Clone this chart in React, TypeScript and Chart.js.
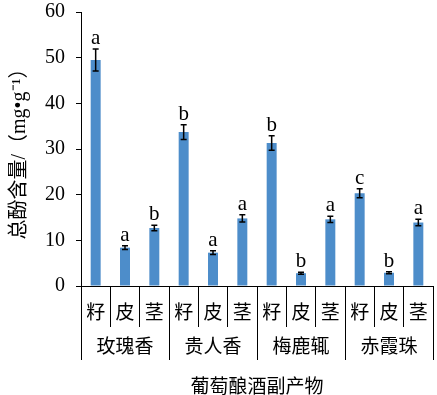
import React, { useEffect, useRef } from 'react';
import { Chart, registerables } from 'chart.js';

Chart.register(...registerables);

const categories = ['籽', '皮', '茎', '籽', '皮', '茎', '籽', '皮', '茎', '籽', '皮', '茎'];
const groups = ['玫瑰香', '贵人香', '梅鹿辄', '赤霞珠'];
const values = [49.5, 8.4, 12.7, 33.7, 7.3, 14.8, 31.3, 2.8, 14.6, 20.3, 2.9, 13.9];
const errors = [2.4, 0.4, 0.6, 1.6, 0.4, 0.8, 1.6, 0.2, 0.7, 1.0, 0.2, 0.7];
const letters = ['a', 'a', 'b', 'b', 'a', 'a', 'b', 'b', 'a', 'c', 'b', 'a'];
const yMin = 0;
const yMax = 60;
const yStep = 10;
const yTitle = '总酚含量/（mg•g⁻¹）';
const xTitle = '葡萄酿酒副产物';

const SERIF = "'Liberation Serif', 'Noto Sans CJK SC', serif";
const CJK = "'Noto Sans CJK SC', sans-serif";

const extrasPlugin = {
  id: 'extras',
  afterDatasetsDraw(chart: any) {
    const ctx = chart.ctx;
    const y = chart.scales.y;
    const meta = chart.getDatasetMeta(0);
    ctx.save();
    ctx.strokeStyle = '#000';
    ctx.fillStyle = '#000';
    ctx.lineWidth = 1.5;
    meta.data.forEach((el: any, i: number) => {
      const x = el.x;
      const top = y.getPixelForValue(values[i] + errors[i]);
      const bot = y.getPixelForValue(values[i] - errors[i]);
      ctx.beginPath();
      ctx.moveTo(x, top);
      ctx.lineTo(x, bot);
      ctx.moveTo(x - 3, top);
      ctx.lineTo(x + 3, top);
      ctx.moveTo(x - 3, bot);
      ctx.lineTo(x + 3, bot);
      ctx.stroke();
      ctx.font = `21px ${SERIF}`;
      ctx.textAlign = 'center';
      ctx.textBaseline = 'alphabetic';
      ctx.fillText(letters[i], x, top - 5);
    });
    ctx.restore();
  },
  afterDraw(chart: any) {
    const ctx = chart.ctx;
    const xs = chart.scales.x;
    const half = (xs.getPixelForValue(1) - xs.getPixelForValue(0)) / 2;
    const bottom = chart.chartArea.bottom;
    ctx.save();
    ctx.strokeStyle = '#000';
    ctx.lineWidth = 1;
    for (let g = 0; g <= groups.length; g++) {
      const idx = g * 3;
      const px =
        idx < categories.length
          ? xs.getPixelForValue(idx) - half
          : xs.getPixelForValue(categories.length - 1) + half;
      const xp = Math.round(px) + 0.5;
      ctx.beginPath();
      ctx.moveTo(xp, bottom);
      ctx.lineTo(xp, 360);
      ctx.stroke();
    }
    ctx.restore();
  },
};

export default function App() {
  const ref = useRef<HTMLCanvasElement | null>(null);

  useEffect(() => {
    if (!ref.current) return;
    const chart = new Chart(ref.current, {
      type: 'bar',
      data: {
        labels: categories,
        datasets: [
          {
            data: values,
            backgroundColor: '#4D8DCA',
            borderWidth: 0,
            barPercentage: 0.34,
            categoryPercentage: 1,
          },
        ],
      },
      options: {
        animation: false,
        responsive: true,
        maintainAspectRatio: false,
        layout: { padding: { top: 0, right: 4, left: 0, bottom: 0 } },
        plugins: {
          legend: { display: false },
          tooltip: { enabled: false },
        },
        scales: {
          y: {
            min: yMin,
            max: yMax,
            ticks: {
              stepSize: yStep,
              color: '#000',
              padding: 11,
              font: { family: SERIF, size: 20 },
            },
            grid: {
              drawOnChartArea: false,
              color: '#000',
              tickLength: 5,
            },
            border: { display: true, color: '#000', width: 1 },
            title: {
              display: true,
              text: yTitle,
              color: '#000',
              font: { family: SERIF, size: 20 },
              padding: { top: 8, bottom: 0 },
            },
            afterFit(scale: any) {
              scale.width = 81;
              scale.paddingTop = 12;
            },
          },
          x: {
            position: 'bottom',
            weight: 0,
            offset: true,
            ticks: {
              color: '#000',
              padding: -27,
              maxRotation: 0,
              autoSkip: false,
              font: { family: CJK, size: 19 },
            },
            grid: {
              offset: true,
              drawOnChartArea: false,
              color: '#000',
              tickLength: 41,
            },
            border: { display: true, color: '#000', width: 1 },
            afterFit(scale: any) {
              scale.height = 41;
            },
          },
          x2: {
            type: 'category',
            position: 'bottom',
            weight: 1,
            labels: groups,
            offset: true,
            ticks: {
              color: '#000',
              padding: -1,
              maxRotation: 0,
              autoSkip: false,
              font: { family: CJK, size: 19 },
            },
            grid: { display: false },
            border: { display: false },
            title: {
              display: true,
              text: xTitle,
              color: '#000',
              font: { family: CJK, size: 19 },
              padding: { top: 0, bottom: -2 },
            },
            afterFit(scale: any) {
              scale.height = 68;
            },
          },
        },
      } as any,
      plugins: [extrasPlugin],
    });
    return () => chart.destroy();
  }, []);

  return (
    <div
      style={{
        position: 'absolute',
        left: 0,
        top: 0,
        width: 437,
        height: 395,
        background: '#fff',
      }}
    >
      <canvas ref={ref} />
    </div>
  );
}
